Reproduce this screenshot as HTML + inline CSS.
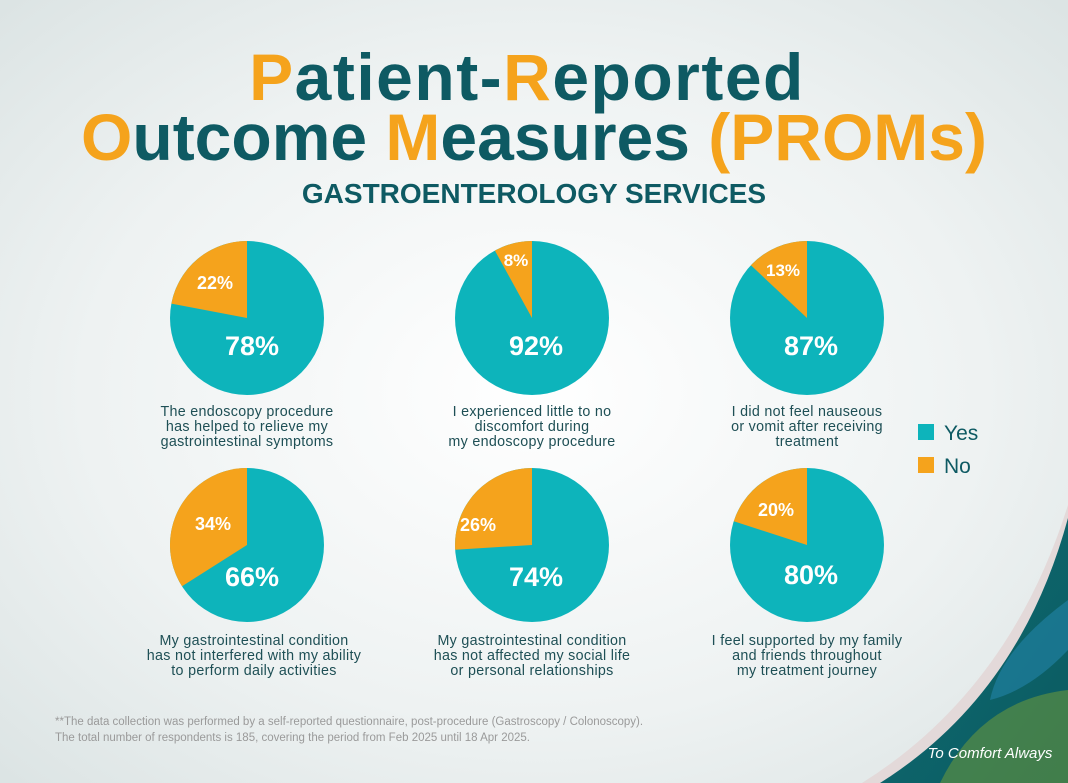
<!DOCTYPE html>
<html><head><meta charset="utf-8"><style>
html,body{margin:0;padding:0;width:1068px;height:783px;overflow:hidden}
svg{display:block}
text{font-family:"Liberation Sans",sans-serif}
</style></head><body>
<svg width="1068" height="783" viewBox="0 0 1068 783" xmlns="http://www.w3.org/2000/svg">
<defs>
<radialGradient id="bg" cx="50%" cy="50%" r="70%">
<stop offset="0" stop-color="#ffffff"/><stop offset="0.6" stop-color="#eef2f2"/><stop offset="1" stop-color="#dce4e4"/>
</radialGradient>
<linearGradient id="leaf" x1="0" y1="0" x2="1" y2="1">
<stop offset="0" stop-color="#0f6d74"/><stop offset="1" stop-color="#0b5a60"/>
</linearGradient>
</defs>
<rect width="1068" height="783" fill="url(#bg)"/>
<path d="M1068,505 Q1010,690 862,783 L1068,783 Z" fill="#e3d9d9"/>
<path d="M1068,518 Q1020,695 880,783 L1068,783 Z" fill="url(#leaf)"/>
<path d="M1068,600 Q1000,650 990,700 Q1030,690 1068,650 Z" fill="#1f7fa0" opacity="0.7"/>
<path d="M940,783 Q980,700 1068,690 L1068,783 Z" fill="#6f9a3a" opacity="0.55"/>
<text x="990" y="758" font-size="15" fill="#fff" font-style="italic" text-anchor="middle" font-family="'Liberation Serif',serif">To Comfort Always</text>

<text x="527" y="100" text-anchor="middle" font-size="66" font-weight="bold" fill="#0e5a63" letter-spacing="1.5"><tspan fill="#f5a31c">P</tspan>atient-<tspan fill="#f5a31c">R</tspan>eported</text>
<text x="534" y="160" text-anchor="middle" font-size="66" font-weight="bold" fill="#0e5a63"><tspan fill="#f5a31c">O</tspan>utcome <tspan fill="#f5a31c">M</tspan>easures <tspan fill="#f5a31c">(PROMs)</tspan></text>
<text x="534" y="203" text-anchor="middle" font-size="28" font-weight="bold" fill="#0e5a63">GASTROENTEROLOGY SERVICES</text>

<g>
<circle cx="247" cy="318" r="77" fill="#0db4bb"/>
<path d="M247,318 L247,241 A77,77 0 0 0 171.4,303.6 Z" fill="#f5a31c"/>
<circle cx="532" cy="318" r="77" fill="#0db4bb"/>
<path d="M532,318 L532,241 A77,77 0 0 0 494.9,250.6 Z" fill="#f5a31c"/>
<circle cx="807" cy="318" r="77" fill="#0db4bb"/>
<path d="M807,318 L807,241 A77,77 0 0 0 750.9,265.3 Z" fill="#f5a31c"/>
<circle cx="247" cy="545" r="77" fill="#0db4bb"/>
<path d="M247,545 L247,468 A77,77 0 0 0 182,586.3 Z" fill="#f5a31c"/>
<circle cx="532" cy="545" r="77" fill="#0db4bb"/>
<path d="M532,545 L532,468 A77,77 0 0 0 455.2,549.8 Z" fill="#f5a31c"/>
<circle cx="807" cy="545" r="77" fill="#0db4bb"/>
<path d="M807,545 L807,468 A77,77 0 0 0 733.8,521.2 Z" fill="#f5a31c"/>
</g>
<g fill="#fff" font-weight="bold" text-anchor="middle">
<text x="252" y="355" font-size="27">78%</text><text x="215" y="289" font-size="18">22%</text>
<text x="536" y="355" font-size="27">92%</text><text x="516" y="266" font-size="17">8%</text>
<text x="811" y="355" font-size="27">87%</text><text x="783" y="276" font-size="17">13%</text>
<text x="252" y="586" font-size="27">66%</text><text x="213" y="530" font-size="18">34%</text>
<text x="536" y="586" font-size="27">74%</text><text x="478" y="531" font-size="18">26%</text>
<text x="811" y="584" font-size="27">80%</text><text x="776" y="516" font-size="18">20%</text>
</g>
<g fill="#1e4f55" font-size="14.3" text-anchor="middle" letter-spacing="0.3">
<text x="247" y="416">The endoscopy procedure</text><text x="247" y="431">has helped to relieve my</text><text x="247" y="446">gastrointestinal symptoms</text>
<text x="532" y="416">I experienced little to no</text><text x="532" y="431">discomfort during</text><text x="532" y="446">my endoscopy procedure</text>
<text x="807" y="416">I did not feel nauseous</text><text x="807" y="431">or vomit after receiving</text><text x="807" y="446">treatment</text>
<text x="254" y="645">My gastrointestinal condition</text><text x="254" y="660">has not interfered with my ability</text><text x="254" y="675">to perform daily activities</text>
<text x="532" y="645">My gastrointestinal condition</text><text x="532" y="660">has not affected my social life</text><text x="532" y="675">or personal relationships</text>
<text x="807" y="645">I feel supported by my family</text><text x="807" y="660">and friends throughout</text><text x="807" y="675">my treatment journey</text>
</g>
<rect x="918" y="424" width="16" height="16" fill="#0db4bb"/>
<text x="944" y="440" font-size="21" fill="#0e5a63">Yes</text>
<rect x="918" y="457" width="16" height="16" fill="#f5a31c"/>
<text x="944" y="473" font-size="21" fill="#0e5a63">No</text>
<text x="55" y="725" font-size="11.5" fill="#9a9a9a">**The data collection was performed by a self-reported questionnaire, post-procedure (Gastroscopy / Colonoscopy).</text>
<text x="55" y="741" font-size="11.5" fill="#9a9a9a">The total number of respondents is 185, covering the period from Feb 2025 until 18 Apr 2025.</text>
</svg>
</body></html>
